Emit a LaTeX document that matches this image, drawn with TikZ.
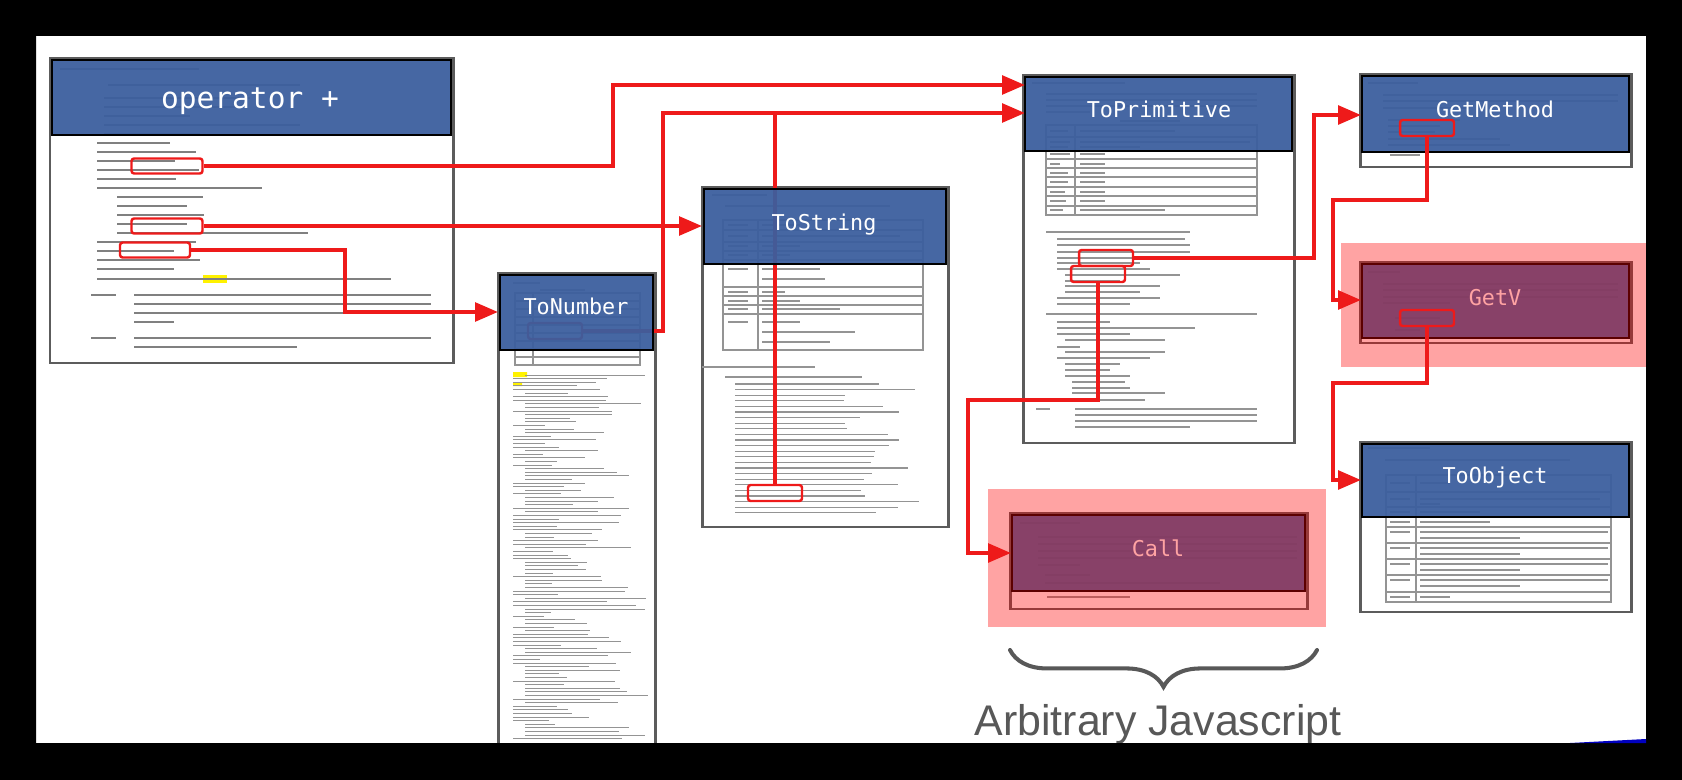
\documentclass[tikz,border=0pt]{standalone}
\usepackage{fontspec}
\newfontfamily\codefont{DejaVu Sans Mono}
\newfontfamily\slidefont{Liberation Sans}
\usetikzlibrary{arrows.meta,decorations.pathreplacing}
\definecolor{hdrblue}{HTML}{3B5E9E}
\definecolor{conred}{HTML}{EE1A1A}
\definecolor{framegray}{HTML}{5C5C5C}
\definecolor{bracegray}{HTML}{585858}
\tikzset{
  docpage/.style={fill=white, draw=framegray, line width=1.7pt},
  hdr/.style={fill=hdrblue, fill opacity=0.94, draw=black, line width=1.2pt},
  txt/.style={draw=black!50, line width=1.2pt},
  fine/.style={draw=black!42, line width=0.7pt},
  markbox/.style={draw=conred, line width=1.4pt, rounded corners=1.5pt,
    minimum width=1.08cm, minimum height=0.32cm, inner sep=0pt},
  conn/.style={draw=conred, line width=2.3pt, -{Triangle[length=13pt,width=10.5pt]}},
  wire/.style={draw=conred, line width=2.3pt},
  doctitle/.style={text=white, anchor=base, inner sep=0pt,
    font=\codefont\fontsize{12.4pt}{14pt}\selectfont},
  veil/.style={fill=red, fill opacity=0.36},
}
\begin{document}
\begin{tikzpicture}[x=0.02cm, y=-0.02cm]
    \fill[white] (0,0) rectangle (1682,780);
    % pages
    \draw[docpage] (50,58) rectangle (453,363);
    \fill[yellow] (203,275) rectangle (227,283);
    \foreach \xa/\xb/\y in {60/199/69, 108/300/85, 104/250/98, 104/240/107, 104/190/116, 104/300/125, 104/200/134,
        97/170/143, 97/196/152, 97/175/161, 97/199/170, 97/176/179, 97/262/188, 117/203/197, 117/187/206,
        117/204/215, 117/187/224, 117/308/233, 97/196/242, 97/174/251, 97/200/260, 97/174/269, 97/391/279,
        91/116/295, 134/431/295, 134/431/304, 134/431/313, 134/174/322, 91/116/338, 134/431/338, 134/297/347}
      \draw[txt] (\xa,\y) -- (\xb,\y);

    \draw[docpage] (498,273) rectangle (655,770);
    \draw[fine] (513,283) -- (540,283) (540,290) -- (585,290);
    \draw[fine] (515,293) rectangle (640,365) (533,293) -- (533,365);
    \foreach \y in {301,309,...,357}
      \draw[fine] (515,\y) -- (640,\y);
    \fill[yellow] (513,372) rectangle (527,377) (513,382) rectangle (522,386);
    \pgfmathsetseed{11}
    \foreach \y in {375,378.6,...,741} {
      \pgfmathsetmacro\xa{513+12*int(2*rnd)}
      \pgfmathsetmacro\xb{\xa+25+100*rnd}
      \draw[fine, line width=0.5pt] (\xa,\y) -- (\xb,\y);
    }

    \draw[docpage] (702,187) rectangle (948,527);
    \draw[fine] (712,195) -- (767,195) (725,206) -- (890,206);
    \draw[fine] (723,220) rectangle (923,350) (758,220) -- (758,350);
    \foreach \y in {230,242,251,260,287,296,305,314}
      \draw[fine] (723,\y) -- (923,\y);
    \foreach \y in {225,236,246,255,269,292,301,309,322}
      \draw[fine] (728,\y) -- (748,\y);
    \foreach \y/\xb in {225/800, 236/900, 246/800, 255/790, 269/820, 279/825, 292/785, 301/800, 309/840, 322/800, 332/855, 342/830}
      \draw[fine] (762,\y) -- (\xb,\y);
    \draw[fine] (702,367) -- (815,367) (725,377) -- (862,377);
    \pgfmathsetseed{5}
    \foreach \y in {384,389.6,...,517} {
      \pgfmathsetmacro\xb{840+82*rnd}
      \draw[fine] (735,\y) -- (\xb,\y);
    }

    \draw[docpage] (1023,75) rectangle (1294,443);
    \draw[fine] (1032,83) -- (1125,83) (1120,121) -- (1180,121);
    \foreach \y/\xb in {94/1257, 100/1257, 106/1257, 112/1090}
      \draw[fine] (1046,\y) -- (\xb,\y);
    \draw[fine] (1046,125) rectangle (1257,215) (1075,125) -- (1075,215);
    \foreach \y in {137,151,159,168,177,187,196,206}
      \draw[fine] (1046,\y) -- (1257,\y);
    \foreach \y/\xb in {131/1068, 142/1070, 147/1068, 154/1070, 164/1060, 173/1068, 182/1068, 192/1065, 201/1066, 210/1063}
      \draw[fine] (1050,\y) -- (\xb,\y);
    \foreach \y/\xb in {131/1175, 142/1250, 147/1140, 154/1105, 164/1105, 173/1105, 182/1105, 192/1105, 201/1105, 210/1165}
      \draw[fine] (1080,\y) -- (\xb,\y);
    \foreach \xa/\xb/\y in {1046/1190/232, 1057/1185/239, 1057/1190/245, 1057/1190/252, 1057/1215/258, 1057/1140/263,
        1057/1150/269, 1065/1180/275, 1065/1120/281, 1065/1160/286, 1065/1140/292, 1057/1160/298, 1057/1130/304,
        1046/1257/314, 1057/1110/322, 1057/1195/328, 1057/1130/334, 1065/1165/340, 1057/1080/347, 1065/1165/352,
        1057/1150/358, 1065/1120/364, 1065/1110/370, 1065/1130/376, 1072/1125/382, 1072/1130/388, 1072/1165/393,
        1057/1145/400, 1036/1050/409, 1075/1257/409, 1075/1257/415, 1075/1257/421, 1075/1190/427}
      \draw[fine] (\xa,\y) -- (\xb,\y);

    \draw[docpage] (1360,74) rectangle (1631,167);
    \foreach \xa/\xb/\y in {1368/1418/83, 1383/1618/95, 1383/1618/101, 1383/1470/108, 1388/1460/120, 1388/1440/126,
        1388/1435/132, 1388/1500/139, 1388/1510/145, 1390/1420/155}
      \draw[fine] (\xa,\y) -- (\xb,\y);

    \draw[docpage] (1360,262) rectangle (1631,343);
    \foreach \xa/\xb/\y in {1368/1400/272, 1383/1618/284, 1383/1618/290, 1383/1618/297, 1383/1450/303, 1395/1440/318, 1395/1420/330}
      \draw[fine] (\xa,\y) -- (\xb,\y);

    \draw[docpage] (1360,442) rectangle (1631,612);
    \draw[fine] (1368,448) -- (1430,448) (1385,460) -- (1570,460);
    \draw[fine] (1386,475) rectangle (1611,602) (1416,475) -- (1416,602);
    \foreach \y in {492,507,517,527,543,559,575,592}
      \draw[fine] (1386,\y) -- (1611,\y);
    \foreach \y in {483,499,512,522,532,548,564,580,597}
      \draw[fine] (1390,\y) -- (1410,\y);
    \foreach \y/\xb in {483/1450, 499/1600, 504/1440, 512/1480, 522/1490, 532/1608, 538/1520, 548/1608, 554/1520,
        564/1608, 570/1520, 580/1608, 586/1520, 597/1450}
      \draw[fine] (1420,\y) -- (\xb,\y);

    \draw[docpage] (1010,513) rectangle (1307,609);
    \foreach \xa/\xb/\y in {1020/1080/523, 1038/1297/537, 1038/1297/544, 1038/1297/551, 1038/1297/558, 1038/1080/565,
        1045/1090/575, 1045/1220/583, 1047/1130/597}
      \draw[fine] (\xa,\y) -- (\xb,\y);

    % marks and lines under the headers
    \coordinate (tpInA) at (1025,85);
    \coordinate (tpInB) at (1025,113);
    \coordinate (tsIn) at (702,226);
    \coordinate (tnIn) at (498,312);
    \coordinate (gmIn) at (1361,115);
    \coordinate (gvIn) at (1361,300);
    \coordinate (toIn) at (1361,480);
    \coordinate (callIn) at (1011,553);
    \node[markbox] (hlD) at (555,331) {};
    \node[markbox] (hlE) at (775,493) {};
    \draw[conn] (hlD.east) -| (663,113) -- (tpInB);
    \draw[wire] (hlE.north) -- (hlE.north |- tpInB);

    % headers
    \draw[hdr] (52,60) rectangle (451,135);
    \draw[hdr] (500,275) rectangle (653,350);
    \draw[hdr] (704,189) rectangle (946,264);
    \draw[hdr] (1025,77) rectangle (1292,151);
    \draw[hdr] (1362,76) rectangle (1629,152);
    \draw[hdr] (1362,264) rectangle (1629,338);
    \draw[hdr] (1362,444) rectangle (1629,517);
    \draw[hdr] (1012,515) rectangle (1305,591);

    \node[doctitle, font=\codefont\fontsize{16.8pt}{19pt}\selectfont] (tPlus) at (250,109) {operator +};
    \node[doctitle] (tNum) at (576,315) {ToNumber};
    \node[doctitle] (tStr) at (824,231) {ToString};
    \node[doctitle] (tPrim) at (1159,118) {ToPrimitive};
    \node[doctitle] (tMeth) at (1495,118) {GetMethod};
    \node[doctitle] (tGetV) at (1495,305) {GetV};
    \node[doctitle] (tObj) at (1495,483) {ToObject};
    \node[doctitle] (tCall) at (1158,556) {Call};

    % pink veils
    \fill[veil] (1341,243) rectangle (1660,367);
    \fill[veil] (988,489) rectangle (1326,627);

    % marks and lines on top
    \node[markbox, minimum width=1.42cm, minimum height=0.3cm] (hlA) at (167,166) {};
    \node[markbox, minimum width=1.42cm, minimum height=0.3cm] (hlB) at (167,226) {};
    \node[markbox, minimum width=1.4cm, minimum height=0.3cm] (hlC) at (155,250) {};
    \node[markbox] (hlF) at (1106,258) {};
    \node[markbox] (hlG) at (1098,274) {};
    \node[markbox] (hlH) at (1427,128) {};
    \node[markbox] (hlI) at (1427,318) {};
    \draw[conn] (hlA.east) -| (613,85) -- (tpInA);
    \draw[conn] (hlB.east) -- (tsIn);
    \draw[conn] (hlC.east) -| (345,312) -- (tnIn);
    \draw[conn] (hlF.east) -| (1314,115) -- (gmIn);
    \draw[conn] (hlG.south) |- (968,400) |- (callIn);
    \draw[conn] (hlH.south) |- (1333,200) |- (gvIn);
    \draw[conn] (hlI.south) |- (1333,383) |- (toIn);

    \draw[bracegray, line width=2.3pt, line cap=round, decorate,
      decoration={brace, mirror, amplitude=21pt}] (1010,650) -- (1317,650);
    \node[anchor=base, inner sep=0pt, text=bracegray, font=\slidefont\fontsize{24.4pt}{28pt}\selectfont]
      (arbJs) at (1158,735) {Arbitrary Javascript};

    % slide frame
    \fill[black, even odd rule] (0,0) rectangle (1682,780) (36,36) rectangle (1646,743);
    \fill[blue!75!black] (1570,743) -- (1646,739) -- (1646,743) -- cycle;
\end{tikzpicture}
\end{document}
